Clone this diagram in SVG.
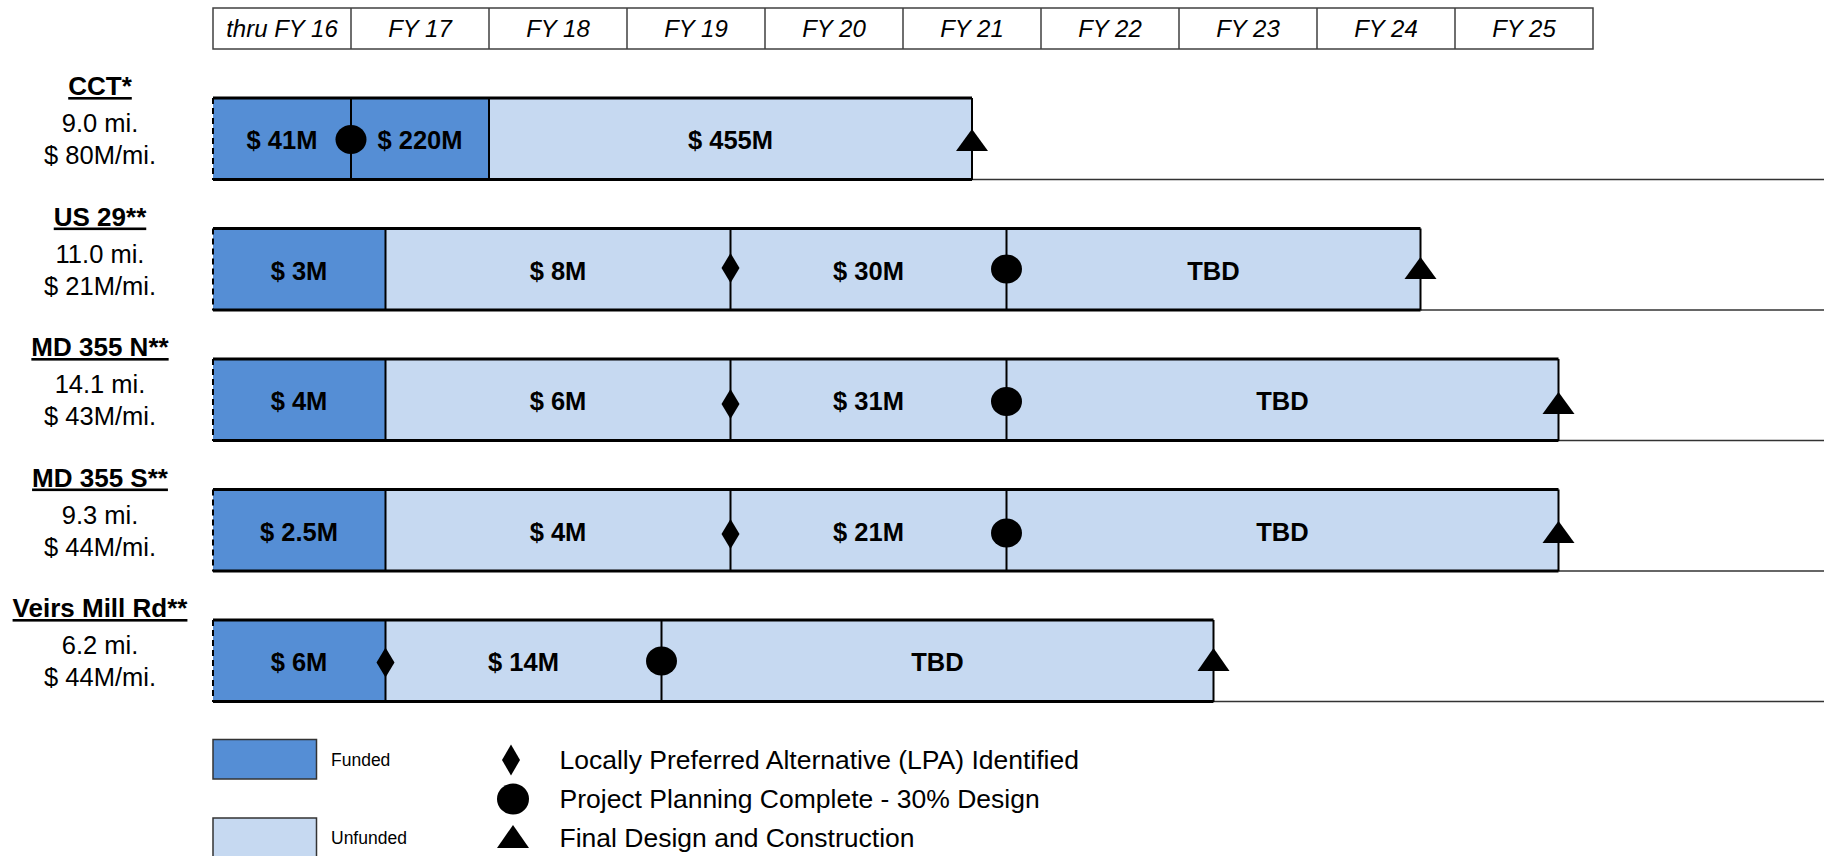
<svg xmlns="http://www.w3.org/2000/svg" width="1824" height="856" viewBox="0 0 1824 856">
<style>
  text { font-family: "Liberation Sans", Arial, sans-serif; fill: #000; }
  .hdr { font-size: 24px; font-style: italic; text-anchor: middle; }
  .ttl { font-size: 26px; font-weight: bold; text-anchor: middle; text-decoration: underline; }
  .dat { font-size: 25.5px; text-anchor: middle; }
  .amt { font-size: 25.5px; font-weight: bold; text-anchor: middle; }
  .leg { font-size: 26.5px; }
  .legs { font-size: 17.5px; }
  .hcell { fill: #fff; stroke: #404040; stroke-width: 1.5; }
  .fund { fill: #558ED5; }
  .unf { fill: #C6D9F1; }
  .edge { stroke: #000; stroke-width: 3; fill: none; }
  .div { stroke: #000; stroke-width: 2; fill: none; }
  .dash { stroke: #000; stroke-width: 2; stroke-dasharray: 6 4; fill: none; }
  .base { stroke: #333; stroke-width: 1.5; fill: none; }
  .mk { fill: #000; }
  .lbox { stroke: #333; stroke-width: 1.5; }
</style>

<g id="header">
  <rect class="hcell" x="213" y="8" width="1380" height="41"/>
  <path class="hcell" d="M351 8V49M489 8V49M627 8V49M765 8V49M903 8V49M1041 8V49M1179 8V49M1317 8V49M1455 8V49"/>
  <text class="hdr" x="282" y="37">thru FY 16</text>
  <text class="hdr" x="420" y="37">FY 17</text>
  <text class="hdr" x="558" y="37">FY 18</text>
  <text class="hdr" x="696" y="37">FY 19</text>
  <text class="hdr" x="834" y="37">FY 20</text>
  <text class="hdr" x="972" y="37">FY 21</text>
  <text class="hdr" x="1110" y="37">FY 22</text>
  <text class="hdr" x="1248" y="37">FY 23</text>
  <text class="hdr" x="1386" y="37">FY 24</text>
  <text class="hdr" x="1524" y="37">FY 25</text>
</g>

<g id="connectors">
  <path class="base" d="M972 179.5H1824"/>
  <path class="base" d="M1420.5 310H1824"/>
  <path class="base" d="M1558.5 440.5H1824"/>
  <path class="base" d="M1558.5 571H1824"/>
  <path class="base" d="M1213.5 701.5H1824"/>
</g>

<g id="row-cct">
  <text class="ttl" x="100" y="95">CCT*</text>
  <text class="dat" x="100" y="132">9.0 mi.</text>
  <text class="dat" x="100" y="164">$ 80M/mi.</text>
  <rect class="fund" x="213" y="98" width="276" height="81"/>
  <rect class="unf" x="489" y="98" width="483" height="81"/>
  <path class="edge" d="M213 98H972M213 179.5H972"/>
  <path class="dash" d="M213 98V180"/>
  <path class="div" d="M351 98V180M489 98V180M972 98V180"/>
  <text class="amt" x="282" y="149">$ 41M</text>
  <text class="amt" x="420" y="149">$ 220M</text>
  <text class="amt" x="730.5" y="149">$ 455M</text>
  <ellipse class="mk" cx="351" cy="139.5" rx="15.5" ry="14.5"/>
  <path class="mk" d="M972 129L988 151H956Z"/>
</g>

<g id="row-us29">
  <text class="ttl" x="100" y="225.5">US 29**</text>
  <text class="dat" x="100" y="262.5">11.0 mi.</text>
  <text class="dat" x="100" y="294.5">$ 21M/mi.</text>
  <rect class="fund" x="213" y="228.5" width="172.5" height="81"/>
  <rect class="unf" x="385.5" y="228.5" width="1035" height="81"/>
  <path class="edge" d="M213 228.5H1420.5M213 310H1420.5"/>
  <path class="dash" d="M213 228.5V310.5"/>
  <path class="div" d="M385.5 228.5V310.5M730.5 228.5V310.5M1006.5 228.5V310.5M1420.5 228.5V310.5"/>
  <text class="amt" x="299" y="279.5">$ 3M</text>
  <text class="amt" x="558" y="279.5">$ 8M</text>
  <text class="amt" x="868.5" y="279.5">$ 30M</text>
  <text class="amt" x="1213.5" y="279.5">TBD</text>
  <path class="mk" d="M730.5 253L739.5 268L730.5 283L721.5 268Z"/>
  <ellipse class="mk" cx="1006.5" cy="269" rx="15.5" ry="14.5"/>
  <path class="mk" d="M1420.5 257L1436.5 279H1404.5Z"/>
</g>

<g id="row-md355n">
  <text class="ttl" x="100" y="356">MD 355 N**</text>
  <text class="dat" x="100" y="393">14.1 mi.</text>
  <text class="dat" x="100" y="425">$ 43M/mi.</text>
  <rect class="fund" x="213" y="359" width="172.5" height="81"/>
  <rect class="unf" x="385.5" y="359" width="1173" height="81"/>
  <path class="edge" d="M213 359H1558.5M213 440.5H1558.5"/>
  <path class="dash" d="M213 359V441"/>
  <path class="div" d="M385.5 359V441M730.5 359V441M1006.5 359V441M1558.5 359V441"/>
  <text class="amt" x="299" y="410">$ 4M</text>
  <text class="amt" x="558" y="410">$ 6M</text>
  <text class="amt" x="868.5" y="410">$ 31M</text>
  <text class="amt" x="1282.5" y="410">TBD</text>
  <path class="mk" d="M730.5 389L739.5 404L730.5 419L721.5 404Z"/>
  <ellipse class="mk" cx="1006.5" cy="401.5" rx="15.5" ry="14.5"/>
  <path class="mk" d="M1558.5 392L1574.5 414H1542.5Z"/>
</g>

<g id="row-md355s">
  <text class="ttl" x="100" y="486.5">MD 355 S**</text>
  <text class="dat" x="100" y="523.5">9.3 mi.</text>
  <text class="dat" x="100" y="555.5">$ 44M/mi.</text>
  <rect class="fund" x="213" y="489.5" width="172.5" height="81"/>
  <rect class="unf" x="385.5" y="489.5" width="1173" height="81"/>
  <path class="edge" d="M213 489.5H1558.5M213 571H1558.5"/>
  <path class="dash" d="M213 489.5V571.5"/>
  <path class="div" d="M385.5 489.5V571.5M730.5 489.5V571.5M1006.5 489.5V571.5M1558.5 489.5V571.5"/>
  <text class="amt" x="299" y="540.5">$ 2.5M</text>
  <text class="amt" x="558" y="540.5">$ 4M</text>
  <text class="amt" x="868.5" y="540.5">$ 21M</text>
  <text class="amt" x="1282.5" y="540.5">TBD</text>
  <path class="mk" d="M730.5 519L739.5 534L730.5 549L721.5 534Z"/>
  <ellipse class="mk" cx="1006.5" cy="533" rx="15.5" ry="14.5"/>
  <path class="mk" d="M1558.5 521L1574.5 543H1542.5Z"/>
</g>

<g id="row-veirs">
  <text class="ttl" x="100" y="617">Veirs Mill Rd**</text>
  <text class="dat" x="100" y="654">6.2 mi.</text>
  <text class="dat" x="100" y="686">$ 44M/mi.</text>
  <rect class="fund" x="213" y="620" width="172.5" height="81"/>
  <rect class="unf" x="385.5" y="620" width="828" height="81"/>
  <path class="edge" d="M213 620H1213.5M213 701.5H1213.5"/>
  <path class="dash" d="M213 620V702"/>
  <path class="div" d="M385.5 620V702M661.5 620V702M1213.5 620V702"/>
  <text class="amt" x="299" y="671">$ 6M</text>
  <text class="amt" x="523.5" y="671">$ 14M</text>
  <text class="amt" x="937.5" y="671">TBD</text>
  <path class="mk" d="M385.5 647.5L394.5 662.5L385.5 677.5L376.5 662.5Z"/>
  <ellipse class="mk" cx="661.5" cy="661" rx="15.5" ry="14.5"/>
  <path class="mk" d="M1213.5 648L1229.5 671H1197.5Z"/>
</g>

<g id="legend">
  <rect class="fund lbox" x="213" y="739.5" width="103.5" height="39.5"/>
  <text class="legs" x="331" y="766">Funded</text>
  <rect class="unf lbox" x="213" y="818" width="103.5" height="42"/>
  <text class="legs" x="331" y="844">Unfunded</text>
  <path class="mk" d="M511 744.5L520 760L511 775.5L502 760Z"/>
  <ellipse class="mk" cx="513" cy="799" rx="16" ry="15.5"/>
  <path class="mk" d="M513 825L529 848H497Z"/>
  <text class="leg" x="559.5" y="769">Locally Preferred Alternative (LPA) Identified</text>
  <text class="leg" x="559.5" y="808">Project Planning Complete - 30% Design</text>
  <text class="leg" x="559.5" y="847">Final Design and Construction</text>
</g>
</svg>
